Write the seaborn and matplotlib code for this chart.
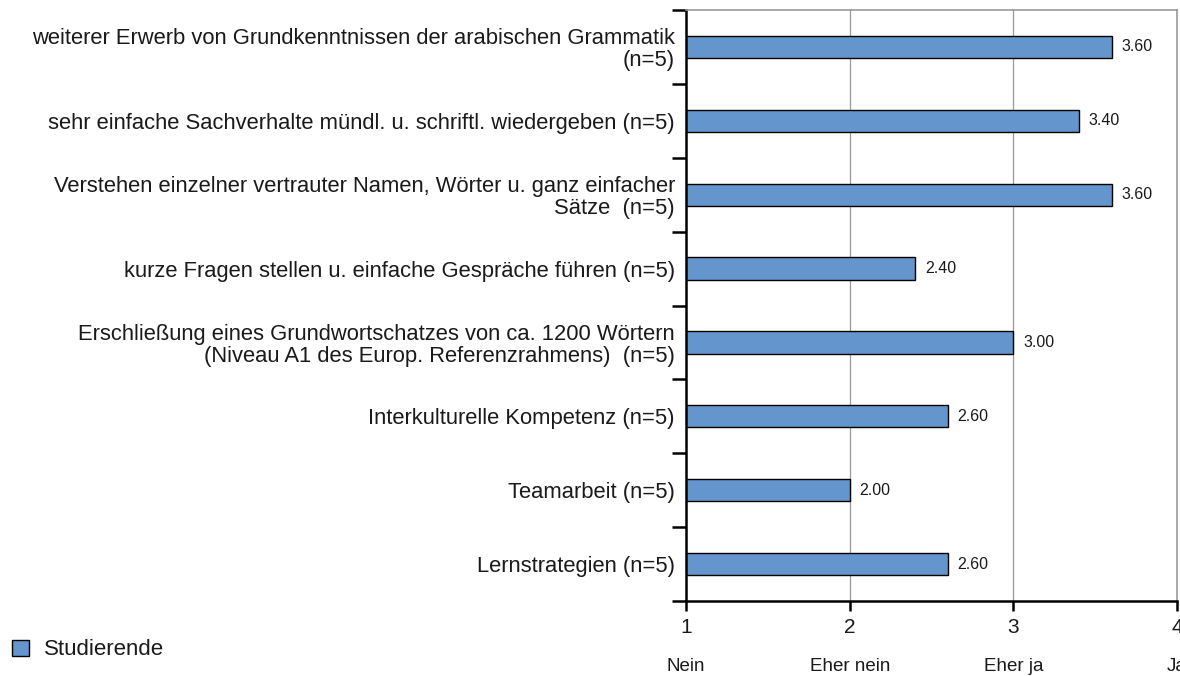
import matplotlib
matplotlib.use("Agg")
import matplotlib.pyplot as plt
import seaborn as sns
import pandas as pd
from matplotlib.patches import Patch

# Data
categories = [
    "weiterer Erwerb von Grundkenntnissen der arabischen Grammatik\n(n=5)",
    "sehr einfache Sachverhalte mündl. u. schriftl. wiedergeben (n=5)",
    "Verstehen einzelner vertrauter Namen, Wörter u. ganz einfacher\nSätze  (n=5)",
    "kurze Fragen stellen u. einfache Gespräche führen (n=5)",
    "Erschließung eines Grundwortschatzes von ca. 1200 Wörtern\n(Niveau A1 des Europ. Referenzrahmens)  (n=5)",
    "Interkulturelle Kompetenz (n=5)",
    "Teamarbeit (n=5)",
    "Lernstrategien (n=5)",
]
values = [3.60, 3.40, 3.60, 2.40, 3.00, 2.60, 2.00, 2.60]
scale_ticks = [1, 2, 3, 4]
scale_labels = ["Nein", "Eher nein", "Eher ja", "Ja"]
series_name = "Studierende"

df = pd.DataFrame({"Kategorie": categories, "Mittelwert": values})

sns.set_style("white")
plt.rcParams["font.family"] = ["Liberation Sans", "DejaVu Sans"]
plt.rcParams["text.color"] = "#1a1a1a"

bar_color = "#6495CD"

fig = plt.figure(figsize=(11.8, 6.76), dpi=100)
ax = fig.add_axes([0.5814, 0.1109, 0.4161, 0.8743])

sns.barplot(data=df, x="Mittelwert", y="Kategorie", orient="h", color=bar_color,
            width=0.3, edgecolor="black", linewidth=1.0, saturation=1, ax=ax)

ax.set_xlim(1, 4)
ax.set_ylim(len(categories) - 0.5, -0.5)

# value labels
for cont in ax.containers:
    ax.bar_label(cont, fmt="%.2f", padding=7, fontsize=11.5, color="#1a1a1a")

# grid lines at inner scale points
for x in [2, 3]:
    ax.axvline(x, color="#999999", linewidth=0.9, zorder=0)

# spines
for s in ["top", "right"]:
    ax.spines[s].set_color("#999999")
    ax.spines[s].set_linewidth(1.2)
for s in ["left", "bottom"]:
    ax.spines[s].set_color("black")
    ax.spines[s].set_linewidth(1.8)

# y ticks: labels on category centers, tick marks at boundaries
ax.set_yticks(range(len(categories)))
ax.set_yticklabels(categories, fontsize=15.8, multialignment="right", linespacing=1.05,
                   color="#1a1a1a")
ax.tick_params(axis="y", which="major", length=0, pad=8)
ax.set_yticks([i - 0.5 for i in range(len(categories) + 1)], minor=True)
ax.tick_params(axis="y", which="minor", length=10, width=1.8, color="black", left=True)

# x ticks
ax.set_xticks(scale_ticks)
ax.set_xticklabels([str(t) for t in scale_ticks], fontsize=15, color="#1a1a1a")
ax.tick_params(axis="x", length=7, width=1.8, color="black", pad=5, bottom=True)
for t, lab in zip(scale_ticks, scale_labels):
    ax.text(t, -0.11, lab, transform=ax.get_xaxis_transform(), ha="center", va="center",
            fontsize=13.5, clip_on=False)

ax.set_xlabel("")
ax.set_ylabel("")

fig.legend(handles=[Patch(facecolor=bar_color, edgecolor="black", linewidth=1.0, label=series_name)],
           loc="center left", bbox_to_anchor=(0.0102, 0.0385), frameon=False, fontsize=16,
           borderpad=0, borderaxespad=0,
           handlelength=0.75, handleheight=0.75, handletextpad=0.7)

fig.savefig("out.png", dpi=100)
